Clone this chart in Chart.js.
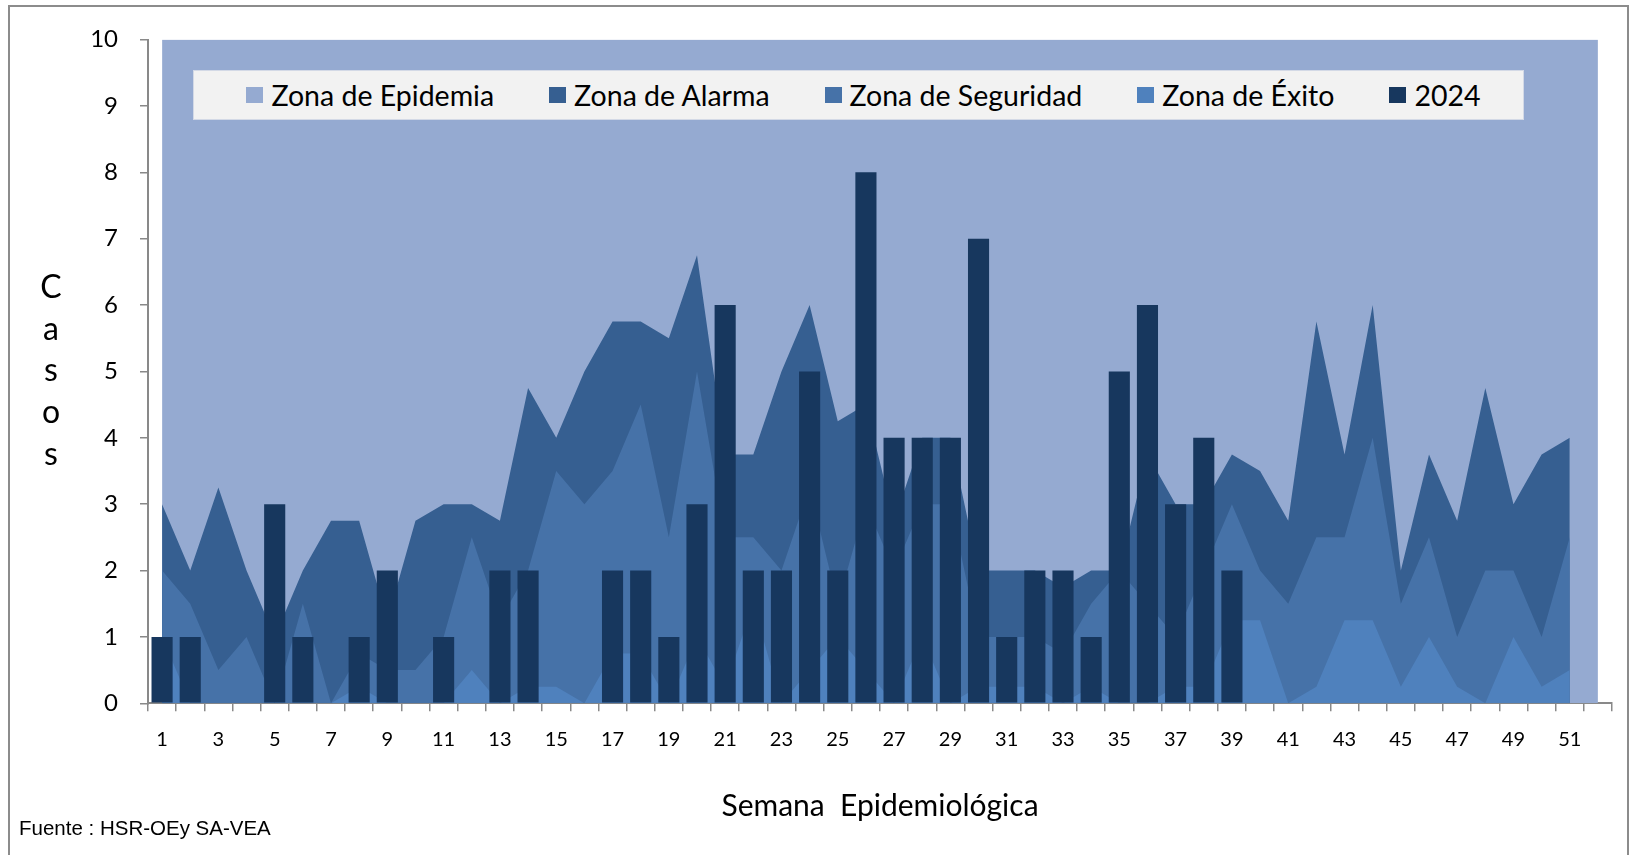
<!DOCTYPE html>
<html>
<head>
<meta charset="utf-8">
<script src="https://cdn.jsdelivr.net/npm/chart.js@4.4.1/dist/chart.umd.min.js"></script>
<style>
  body { margin: 0; background: #fff; }
  #wrap { position: relative; width: 1633px; height: 855px; overflow: hidden; }
  #marco { position: absolute; left: 8px; top: 5px; width: 1621px; height: 900px; border: 2px solid #8c8c8c; box-sizing: border-box; }
  #grafico { position: absolute; left: 0; top: 0; }
  #leyenda { position: absolute; left: 193px; top: 70px; width: 1331px; height: 50px; box-sizing: border-box;
             background: #f2f2f2; border: 1px solid #d3d9e6; display: flex; align-items: center; justify-content: center;
             gap: 55px; padding-left: 10px; font: 28.5px Lato, sans-serif; color: #000; }
  #leyenda .item { display: flex; align-items: center; white-space: pre; }
  #leyenda .item i { display: inline-block; width: 17px; height: 16px; margin-right: 8px; }
  #casos { position: absolute; left: 31px; top: 265px; width: 40px; text-align: center; font: 32px Lato, sans-serif; line-height: 41.7px; color: #000; }
  #fuente { position: absolute; left: 19px; top: 817px; font: 20.5px "Liberation Sans", Arial, sans-serif; line-height: 22px; color: #000; }
</style>
</head>
<body>
<div id="wrap">
  <div id="marco"></div>
  <canvas id="grafico" width="1633" height="855"></canvas>
  <div id="leyenda"></div>
  <div id="casos">C<br>a<br>s<br>o<br>s</div>
  <div id="fuente">Fuente : HSR-OEy SA-VEA</div>
</div>
<script>
// semanas epidemiológicas
var semanas = ['1','2','3','4','5','6','7','8','9','10','11','12','13','14','15','16','17','18','19','20',
  '21','22','23','24','25','26','27','28','29','30','31','32','33','34','35','36','37','38','39','40',
  '41','42','43','44','45','46','47','48','49','50','51','52'];

// límites superiores de cada zona (canal endémico)
var zonaEpidemia = [10,10,10,10,10,10,10,10,10,10,10,10,10,10,10,10,10,10,10,10,
  10,10,10,10,10,10,10,10,10,10,10,10,10,10,10,10,10,10,10,10,
  10,10,10,10,10,10,10,10,10,10,10,10];
var zonaAlarma = [3,2,3.25,2,1,2,2.75,2.75,1.25,2.75,
  3,3,2.75,4.75,4,5,5.75,5.75,5.5,6.75,
  3.75,3.75,5,6,4.25,4.5,2.75,4,4,2,
  2,2,1.75,2,2,3.75,3,3,3.75,3.5,
  2.75,5.75,3.75,6,2,3.75,2.75,4.75,3,3.75,
  4,null];
var zonaSeguridad = [2,1.5,0.5,1,0,1.5,0,0.75,0.5,0.5,
  1,2.5,1.25,2,3.5,3,3.5,4.5,2.5,5,
  2.5,2.5,2,3.25,1.5,3,2,3,3,1,
  1,1,0.75,1.5,2,1.5,1,2,3,2,
  1.5,2.5,2.5,4,1.5,2.5,1,2,2,1,
  2.5,null];
var zonaExito = [1,0,0,0,0,0,0,0.25,0,0,
  0,0.5,0,0.25,0.25,0,0.75,0.75,0,1,
  0.25,1.5,0,0.5,1,0.5,0,1,0,0.25,
  0.25,0.25,0,0.25,0,0,0.25,0.25,1.25,1.25,
  0,0.25,1.25,1.25,0.25,1,0.25,0,1,0.25,
  0.5,null];

// casos 2024
var casos2024 = [1,1,0,0,3,1,0,1,2,0,1,0,2,2,0,0,2,2,1,3,
  6,2,2,5,2,8,4,4,4,7,1,2,2,1,5,6,3,4,2];

var gris = '#898989';

function zona(nombre, datos, color, orden) {
  return {
    type: 'line',
    label: nombre,
    data: datos,
    backgroundColor: color,
    borderColor: color,
    borderWidth: 0,
    pointRadius: 0,
    tension: 0,
    fill: 'origin',
    order: orden
  };
}

var ctx = document.getElementById('grafico').getContext('2d');
var grafico = new Chart(ctx, {
  type: 'bar',
  data: {
    labels: semanas,
    datasets: [
      zona('Zona de Epidemia', zonaEpidemia, '#95aad1', 4),
      zona('Zona de Alarma', zonaAlarma, '#365f91', 3),
      zona('Zona de Seguridad', zonaSeguridad, '#4672a8', 2),
      zona('Zona de Éxito', zonaExito, '#4f81bd', 1),
      {
        type: 'bar',
        label: '2024',
        data: casos2024,
        backgroundColor: '#17375e',
        borderWidth: 0,
        barPercentage: 0.75,
        categoryPercentage: 1,
        order: 0
      }
    ]
  },
  options: {
    responsive: false,
    animation: false,
    layout: { padding: { top: 39.5, right: 21, left: 0, bottom: 0 } },
    plugins: {
      legend: { display: false },
      tooltip: { enabled: false }
    },
    scales: {
      x: {
        offset: true,
        afterFit: function (s) { s.height = 151.7; },
        grid: { display: true, offset: true, drawOnChartArea: false, drawTicks: true, tickLength: 8, color: gris, lineWidth: 1.5 },
        border: { display: true, color: gris, width: 2 },
        ticks: {
          autoSkip: false, maxRotation: 0, padding: 16, color: '#000',
          font: { family: 'Lato', size: 20 },
          callback: function (v, i) { return i % 2 === 0 ? this.getLabelForValue(v) : ''; }
        },
        title: {
          display: true, text: 'Semana  Epidemiológica', color: '#000',
          font: { family: 'Lato', size: 30 }, padding: { top: 0, bottom: 31 }
        }
      },
      y: {
        min: 0, max: 10,
        afterFit: function (s) { s.width = 148; },
        grid: { display: true, drawOnChartArea: false, drawTicks: true, tickLength: 8, color: gris, lineWidth: 1.5 },
        border: { display: true, color: gris, width: 2 },
        ticks: { stepSize: 1, padding: 22, color: '#000', font: { family: 'Lato', size: 24 } }
      }
    }
  }
});

// leyenda en HTML a partir de los datasets
var leyenda = document.getElementById('leyenda');
grafico.data.datasets.forEach(function (ds) {
  var item = document.createElement('span');
  item.className = 'item';
  var marca = document.createElement('i');
  marca.style.background = ds.backgroundColor;
  item.appendChild(marca);
  item.appendChild(document.createTextNode(ds.label));
  leyenda.appendChild(item);
});
</script>
</body>
</html>
